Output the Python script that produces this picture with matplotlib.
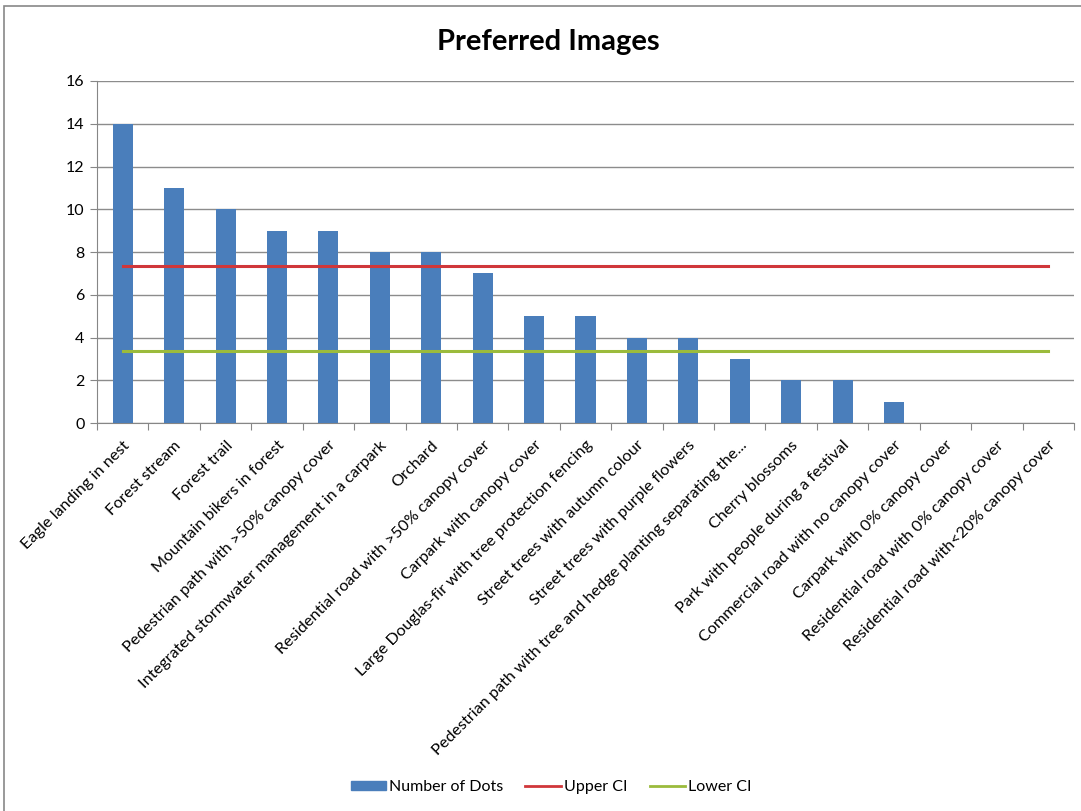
import matplotlib.pyplot as plt
from matplotlib.patches import Rectangle
from matplotlib.lines import Line2D

plt.rcParams['font.family'] = ['Lato', 'DejaVu Sans']

categories = [
    "Eagle landing in nest",
    "Forest stream",
    "Forest trail",
    "Mountain bikers in forest",
    "Pedestrian path with >50% canopy cover",
    "Integrated stormwater management in a carpark",
    "Orchard",
    "Residential road with >50% canopy cover",
    "Carpark with canopy cover",
    "Large Douglas-fir with tree protection fencing",
    "Street trees with autumn colour",
    "Street trees with purple flowers",
    "Pedestrian path with tree and hedge planting separating the...",
    "Cherry blossoms",
    "Park with people during a festival",
    "Commercial road with no canopy cover",
    "Carpark with 0% canopy cover",
    "Residential road with 0% canopy cover",
    "Residential road with<20% canopy cover",
]
dots = [14, 11, 10, 9, 9, 8, 8, 7, 5, 5, 4, 4, 3, 2, 2, 1, 0, 0, 0]
upper_ci = 7.35
lower_ci = 3.36

bar_color = "#4a7ebb"
red = "#d0373a"
green = "#9bbb3c"

fig = plt.figure(figsize=(10.81, 8.11), dpi=100)
# outer chart border
fig.patches.append(Rectangle((4 / 1081, -0.01), 1.02, 1 - 6 / 811 + 0.01,
                             transform=fig.transFigure, fill=False,
                             edgecolor="#888888", linewidth=1.2))

ax = fig.add_axes([97 / 1081, 1 - 423 / 811, (1074 - 97) / 1081, (423 - 81) / 811])
x = list(range(len(categories)))
ax.bar(x, dots, width=0.39, color=bar_color, zorder=3, label="Number of Dots")
ax.plot([x[0], x[-1]], [upper_ci, upper_ci], color=red, linewidth=2.2, zorder=4, label="Upper CI")
ax.plot([x[0], x[-1]], [lower_ci, lower_ci], color=green, linewidth=2.2, zorder=4, label="Lower CI")

ax.set_xlim(-0.5, len(categories) - 0.5)
ax.set_ylim(0, 16)
ax.set_yticks(range(0, 17, 2))
ax.yaxis.grid(True, color="#8c8c8c", linewidth=1.0, zorder=0)
ax.set_axisbelow(True)

for s in ["top", "right"]:
    ax.spines[s].set_visible(False)
ax.spines["left"].set_color("#868686")
ax.spines["bottom"].set_color("#868686")

ax.set_xticks([i - 0.5 for i in range(len(categories) + 1)], minor=False)
ax.set_xticklabels([])
ax.set_xticks(x, minor=True)
ax.set_xticklabels(categories, minor=True, rotation=45, ha="right",
                   rotation_mode="anchor", fontsize=11.7)
ax.tick_params(axis="x", which="major", length=5, color="#868686", direction="out")
ax.tick_params(axis="x", which="minor", length=0, pad=11)
ax.tick_params(axis="y", length=5, color="#868686", labelsize=11.5, pad=4)

fig.text(548 / 1081, 1 - 42 / 811, "Preferred Images", ha="center", va="center",
         fontsize=21, fontweight="bold")

handles = [
    Rectangle((0, 0), 1, 1, color=bar_color),
    Line2D([], [], color=red, linewidth=2),
    Line2D([], [], color=green, linewidth=2),
]
fig.legend(handles, ["Number of Dots", "Upper CI", "Lower CI"], loc="center",
           bbox_to_anchor=(551 / 1081, 1 - 787 / 811), ncol=3, frameon=False,
           fontsize=11.5, handlelength=2.2, handletextpad=0.2, columnspacing=1.4,
           handleheight=0.5)

fig.savefig("out.png", dpi=100)
